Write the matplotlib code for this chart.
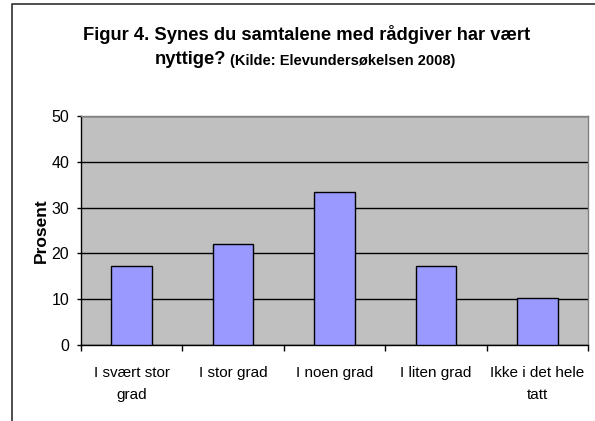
import matplotlib
matplotlib.use('Agg')
import matplotlib.pyplot as plt
from matplotlib.lines import Line2D
import numpy as np

categories = ['I svært stor\ngrad', 'I stor grad', 'I noen grad', 'I liten grad', 'Ikke i det hele\ntatt']
values = [17.2, 22.0, 33.4, 17.2, 10.2]
yticks = [0, 10, 20, 30, 40, 50]
title1 = 'Figur 4. Synes du samtalene med rådgiver har vært'
title2a = 'nyttige?'
title2b = '(Kilde: Elevundersøkelsen 2008)'
ylabel = 'Prosent'

narrow = ['Liberation Sans Narrow', 'Liberation Sans', 'DejaVu Sans']
wide = ['Liberation Sans', 'DejaVu Sans']

W, H = 595, 421
fig = plt.figure(figsize=(W / 100, H / 100), dpi=100)
ax = fig.add_axes([81 / W, 1 - 345 / H, 507 / W, 229 / H])
ax.set_facecolor('#C0C0C0')

x = np.arange(len(categories))
ax.bar(x, values, width=0.4, color='#9999FF', edgecolor='black', linewidth=1.0, zorder=3)
ax.set_xlim(-0.5, len(categories) - 0.5)
ax.set_ylim(0, 50)
ax.set_yticks(yticks)
ax.set_yticklabels([str(v) for v in yticks], fontfamily=narrow, fontsize=11.5)
ax.yaxis.grid(True, color='black', linewidth=1.0)
ax.set_axisbelow(True)

ax.set_xticks(x)
ax.set_xticklabels(categories, fontfamily=narrow, fontsize=11, linespacing=1.75)
ax.set_xticks(np.arange(len(categories) + 1) - 0.5, minor=True)
ax.tick_params(axis='x', which='major', length=0, pad=15)
ax.tick_params(axis='x', which='minor', length=4, width=1, color='black', direction='out')
ax.tick_params(axis='y', which='major', length=3, width=1, color='black', direction='out', pad=5.5)

for s in ['left', 'bottom']:
    ax.spines[s].set_color('black')
    ax.spines[s].set_linewidth(1.0)
for s in ['top', 'right']:
    ax.spines[s].set_color('#808080')
    ax.spines[s].set_linewidth(1.0)

ax.set_ylabel(ylabel, fontfamily=wide, fontweight='bold', fontsize=12.5, labelpad=1.5)

fig.text(307 / W, 1 - 40 / H, title1, ha='center', va='baseline',
         fontfamily=narrow, fontweight='bold', fontsize=13.2)
fig.text(226 / W, 1 - 64.5 / H, title2a, ha='right', va='baseline',
         fontfamily=narrow, fontweight='bold', fontsize=13.2)
fig.text(230 / W, 1 - 64.5 / H, title2b, ha='left', va='baseline',
         fontfamily=narrow, fontweight='bold', fontsize=10.5)

fig.add_artist(Line2D([12 / W, 12 / W, 1.01], [-0.01, 1 - 4 / H, 1 - 4 / H],
                      transform=fig.transFigure, color='#303030', linewidth=1.2))

fig.savefig('out.png', dpi=100, facecolor='white')
